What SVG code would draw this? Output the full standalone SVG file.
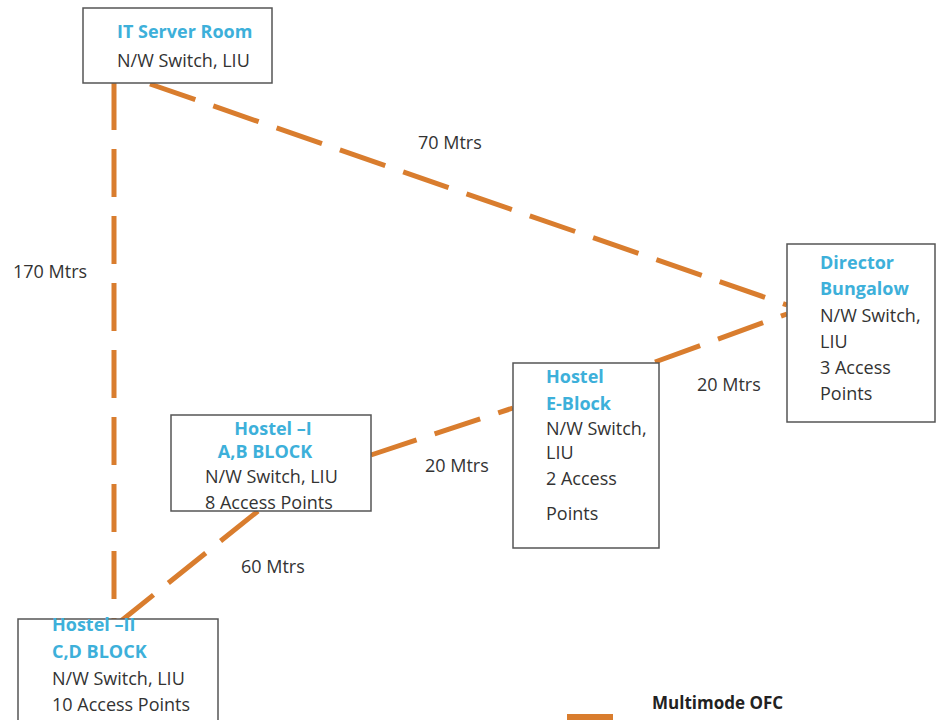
<svg xmlns="http://www.w3.org/2000/svg" width="937" height="720" viewBox="0 0 937 720">
<style>
.box{fill:#fff;stroke:#555;stroke-width:1.5}
.t{font-family:"Open Sans","Liberation Sans",sans-serif;font-size:18px;fill:#333}
.h{font-family:"Open Sans","Liberation Sans",sans-serif;font-size:18px;font-weight:bold;fill:#3DB0DA}
.lbl{font-family:"Open Sans","Liberation Sans",sans-serif;font-size:18px;fill:#333}
.c{fill:none;stroke:#D97D2E;stroke-width:5;stroke-dasharray:48 19}
</style>
<rect width="937" height="720" fill="#fff"/>
<g id="connectors">
<line class="c" x1="114" y1="82" x2="114" y2="620"/>
<line class="c" x1="150" y1="84" x2="787" y2="305"/>
<line class="c" x1="655" y1="362" x2="787" y2="314"/>
<line class="c" x1="371" y1="455" x2="513" y2="408"/>
<line class="c" x1="258" y1="511" x2="121" y2="621"/>
</g>
<g id="it-server-room">
<rect class="box" x="83" y="8" width="189" height="75"/>
<text class="h" x="117" y="38">IT Server Room</text>
<text class="t" x="117" y="67">N/W Switch, LIU</text>
</g>
<g id="director-bungalow">
<rect class="box" x="787" y="244" width="148" height="178"/>
<text class="h" x="820" y="269">Director</text>
<text class="h" x="820" y="295">Bungalow</text>
<text class="t" x="820" y="322">N/W Switch,</text>
<text class="t" x="820" y="348">LIU</text>
<text class="t" x="820" y="374">3 Access</text>
<text class="t" x="820" y="400">Points</text>
</g>
<g id="hostel-e-block">
<rect class="box" x="513" y="363" width="146" height="185"/>
<text class="h" x="546" y="383">Hostel</text>
<text class="h" x="546" y="410">E-Block</text>
<text class="t" x="546" y="435">N/W Switch,</text>
<text class="t" x="546" y="459">LIU</text>
<text class="t" x="546" y="485">2 Access</text>
<text class="t" x="546" y="520">Points</text>
</g>
<g id="hostel-1">
<rect class="box" x="171" y="415" width="200" height="96"/>
<text class="h" x="273" y="435" text-anchor="middle">Hostel –I</text>
<text class="h" x="265" y="458" text-anchor="middle">A,B BLOCK</text>
<text class="t" x="205" y="483">N/W Switch, LIU</text>
<text class="t" x="205" y="509">8 Access Points</text>
</g>
<g id="hostel-2">
<rect class="box" x="18" y="619" width="200" height="110"/>
<text class="h" x="52" y="631">Hostel –II</text>
<text class="h" x="52" y="658">C,D BLOCK</text>
<text class="t" x="52" y="685">N/W Switch, LIU</text>
<text class="t" x="52" y="711">10 Access Points</text>
</g>
<g id="labels">
<text class="lbl" x="418" y="149">70 Mtrs</text>
<text class="lbl" x="13" y="278">170 Mtrs</text>
<text class="lbl" x="697" y="391">20 Mtrs</text>
<text class="lbl" x="425" y="472">20 Mtrs</text>
<text class="lbl" x="241" y="573">60 Mtrs</text>
</g>
<g id="legend">
<rect x="567" y="714" width="46" height="6" fill="#D97D2E"/>
<text x="652" y="709" font-family="'Open Sans','Liberation Sans',sans-serif" font-size="17" font-weight="bold" fill="#222">Multimode OFC</text>
</g>
</svg>
